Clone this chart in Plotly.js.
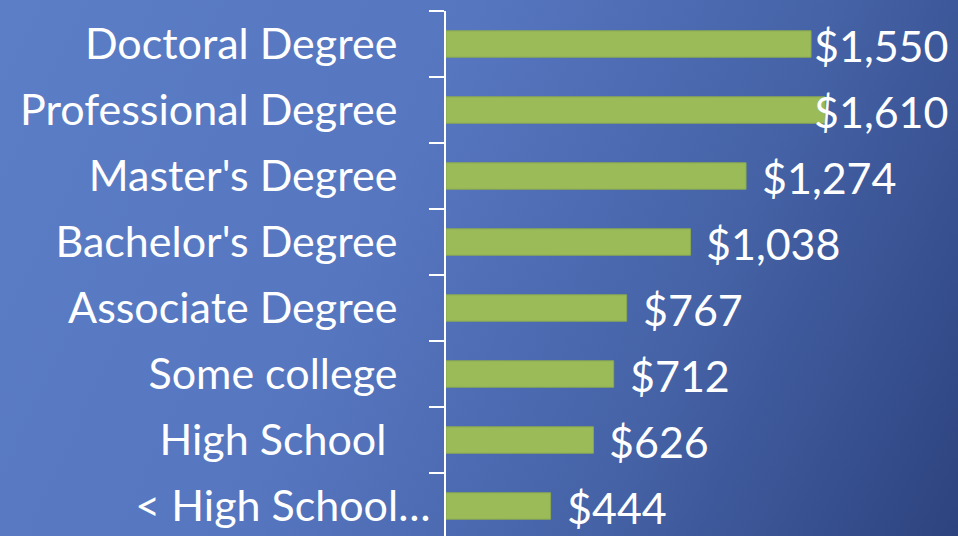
<!DOCTYPE html>
<html>
<head>
<meta charset="utf-8">
<script src="https://cdn.plot.ly/plotly-3.0.1.min.js"></script>
<style>
  html, body { margin: 0; padding: 0; }
  body {
    width: 958px; height: 536px; overflow: hidden;
    background: linear-gradient(115deg, #5b7ec6 0%, #5676c0 40%, #4562a6 70%, #2d437f 100%);
  }
  #chart { width: 958px; height: 536px; }
</style>
</head>
<body>
<div id="chart"></div>
<script>
// ---- data ----
const categories = [
  "Doctoral Degree",
  "Professional Degree",
  "Master's Degree",
  "Bachelor's Degree",
  "Associate Degree",
  "Some college",
  "High School ",
  "< High School\u2026"
];
const weeklyEarnings = [1550, 1610, 1274, 1038, 767, 712, 626, 444];
const valueLabels = ["$1,550", "$1,610", "$1,274", "$1,038", "$767", "$712", "$626", "$444"];

// ---- layout constants ----
const W = 958, H = 536;
const FONT = "Lato, 'Open Sans', sans-serif";
const LABEL_SIZE = 43;
const VALUE_SIZE = 43;
const marginL = 446, marginR = 0, marginT = 11, marginB = 0;
const xMax = 2174;
const plotW = W - marginL - marginR;
const plotH = H - marginT - marginB;
const catPx = 66;
const yTop = -0.5, yBottom = yTop + plotH / catPx;

// trailing padding for tick labels (the truncated last label sits closer to the axis)
const pad = "\u00a0\u00a0\u00a0";
const tickText = categories.map((c, i) => i === categories.length - 1 ? c : c + pad);

// measure value-label widths so labels near the right edge are pulled inside
const ctx = document.createElement("canvas").getContext("2d");
ctx.font = VALUE_SIZE + "px Lato";
const rightLimit = 946, gap = 14;
const annotations = weeklyEarnings.map((v, i) => {
  const barEnd = marginL + v / xMax * plotW;
  const w = ctx.measureText(valueLabels[i]).width;
  const left = Math.min(barEnd + gap, rightLimit - w);
  return {
    x: v, y: categories[i], xref: "x", yref: "y",
    text: valueLabels[i], showarrow: false,
    xanchor: "left", yanchor: "middle",
    xshift: left - barEnd, yshift: -1,
    font: { family: FONT, size: VALUE_SIZE, color: "#ffffff" }
  };
});

const trace = {
  type: "bar",
  orientation: "h",
  x: weeklyEarnings,
  y: categories,
  marker: { color: "#9bbb59", line: { color: "#8aa84f", width: 1 } },
  hoverinfo: "none",
  cliponaxis: false
};

const layout = {
  width: W, height: H,
  margin: { l: marginL, r: marginR, t: marginT, b: marginB, pad: 0 },
  paper_bgcolor: "rgba(0,0,0,0)",
  plot_bgcolor: "rgba(0,0,0,0)",
  showlegend: false,
  bargap: 0.6,
  xaxis: {
    range: [0, xMax], visible: false, showgrid: false, zeroline: false, fixedrange: true
  },
  yaxis: {
    type: "category",
    categoryorder: "array", categoryarray: categories,
    range: [yBottom, yTop],
    tickmode: "array", tickvals: categories, ticktext: tickText,
    tickson: "boundaries",
    ticks: "outside", ticklen: 15, tickwidth: 2, tickcolor: "#ffffff",
    showline: true, linecolor: "#ffffff", linewidth: 2,
    showgrid: false, zeroline: false,
    ticklabelstandoff: 5,
    tickfont: { family: FONT, size: LABEL_SIZE, color: "#ffffff" },
    automargin: false, fixedrange: true
  },
  annotations: annotations
};

Plotly.newPlot("chart", [trace], layout, { staticPlot: true, displayModeBar: false });
</script>
</body>
</html>
